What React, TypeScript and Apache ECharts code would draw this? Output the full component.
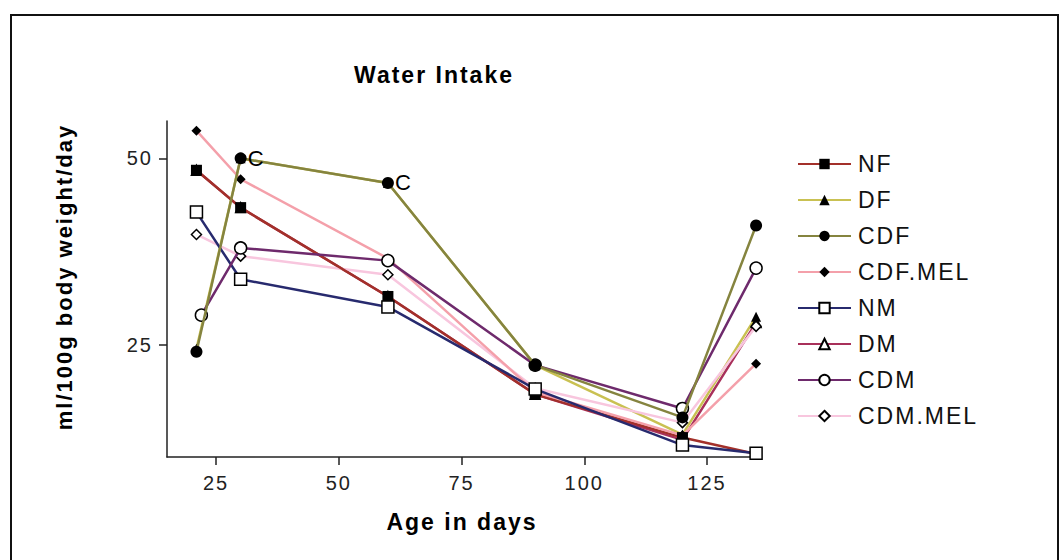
import { useEffect, useRef } from "react";
import * as echarts from "echarts";

const titleText = "Water Intake";
const xName = "Age in days";
const yName = "ml/100g body weight/day";

const days = [21, 30, 60, 90, 120, 135];
const cdmDays = [22, 30, 60, 90, 120, 135];
const seriesNames = ["NF", "DF", "CDF", "CDF.MEL", "NM", "DM", "CDM", "CDM.MEL"];
const nf = [48.4, 43.4, 31.5, 18.4, 12.6, 10.4];
const df = [24.5, 50.0, 46.7, 22.3, 13.0, 28.8];
const cdf = [24.1, 50.0, 46.7, 22.3, 15.3, 41.0];
const cdfMel = [53.7, 47.2, 36.6, 18.7, 12.9, 22.5];
const nm = [42.8, 33.8, 30.1, 19.1, 11.6, 10.5];
const dm = [48.4, 43.4, 31.5, 18.4, 12.3, 28.0];
const cdm = [29.0, 38.0, 36.3, 22.3, 16.5, 35.3];
const cdmMel = [39.8, 36.9, 34.4, 19.2, 14.6, 27.5];
const cdfMarks = ["", "C", "C", "", "", ""];
const xTicks = [25, 50, 75, 100, 125];
const yTicks = [25, 50];

const FONT = "'Liberation Sans', Arial, Helvetica, sans-serif";

function mk(
  name: string,
  xs: number[],
  ys: number[],
  color: string,
  symbol: string,
  size: number,
  filled: boolean,
  z: number,
  marks?: string[]
) {
  return {
    type: "line",
    name,
    z,
    clip: false,
    symbol,
    symbolSize: size,
    data: xs.map((x, i) => ({
      value: [x, ys[i]],
      label: marks && marks[i]
        ? {
            show: true,
            formatter: marks[i],
            position: "right",
            distance: 1,
            fontSize: 22,
            fontFamily: FONT,
            color: "#000",
          }
        : { show: false },
    })),
    lineStyle: { color, width: 2.5 },
    itemStyle: {
      color: filled ? "#000" : "#fff",
      borderColor: "#000",
      borderWidth: filled ? 0 : 1.5,
    },
    emphasis: { disabled: true },
  };
}

export default function App() {
  const ref = useRef<HTMLDivElement>(null);
  useEffect(() => {
    if (!ref.current) return;
    const chart = echarts.init(ref.current, undefined, { renderer: "svg" });
    const series = [
      mk(seriesNames[5], days, dm, "#a8305a", "triangle", 10, false, 1),
      mk(seriesNames[1], days, df, "#c9c152", "triangle", 10, true, 1),
      mk(seriesNames[0], days, nf, "#a3302a", "rect", 11, true, 3),
      mk(seriesNames[2], days, cdf, "#85843f", "circle", 12, true, 4, cdfMarks),
      mk(seriesNames[3], days, cdfMel, "#f4a0aa", "diamond", 10, true, 3),
      mk(seriesNames[4], days, nm, "#272a6e", "rect", 12, false, 3),
      mk(seriesNames[6], cdmDays, cdm, "#6e2a6c", "circle", 12, false, 3),
      mk(seriesNames[7], days, cdmMel, "#f8c6de", "diamond", 10, false, 2),
    ];
    chart.setOption({
      animation: false,
      backgroundColor: "#fff",
      textStyle: { fontFamily: FONT },
      grid: { left: 167, top: 121, width: 594, height: 336, containLabel: false },
      legend: {
        data: seriesNames,
        orient: "vertical",
        left: 792,
        top: 147,
        itemWidth: 53,
        itemHeight: 13,
        itemGap: 12,
        selectedMode: false,
        textStyle: {
          fontSize: 23,
          fontFamily: FONT,
          color: "#111",
          lineHeight: 24,
          padding: [0, 0, 0, 2],
        },
      },
      xAxis: {
        type: "value",
        min: 15,
        max: 136,
        axisLine: { show: true, onZero: false, lineStyle: { color: "#222", width: 1.5 } },
        axisTick: { show: true, customValues: xTicks, length: 8, lineStyle: { color: "#222", width: 1.5 } },
        axisLabel: { customValues: xTicks, fontSize: 20, color: "#222", margin: 16, fontFamily: FONT },
        splitLine: { show: false },
      },
      yAxis: {
        type: "value",
        min: 10,
        max: 55,
        axisLine: { show: true, onZero: false, lineStyle: { color: "#222", width: 1.5 } },
        axisTick: { show: true, customValues: yTicks, length: 8, lineStyle: { color: "#222", width: 1.5 } },
        axisLabel: { customValues: yTicks, fontSize: 20, color: "#222", margin: 14, fontFamily: FONT },
        splitLine: { show: false },
      },
      graphic: [
        {
          type: "rect",
          shape: { x: 11, y: 15, width: 1047, height: 600 },
          style: { fill: "none", stroke: "#111", lineWidth: 2 },
          silent: true,
        },
        {
          type: "text",
          x: 434,
          y: 75,
          style: {
            text: titleText,
            font: `bold 23px ${FONT}`,
            fill: "#000",
            textAlign: "center",
            textVerticalAlign: "middle",
          },
        },
        {
          type: "text",
          x: 64,
          y: 277,
          rotation: Math.PI / 2,
          style: {
            text: yName,
            font: `bold 22px ${FONT}`,
            fill: "#000",
            textAlign: "center",
            textVerticalAlign: "middle",
          },
        },
        {
          type: "text",
          x: 462,
          y: 522,
          style: {
            text: xName,
            font: `bold 23px ${FONT}`,
            fill: "#000",
            textAlign: "center",
            textVerticalAlign: "middle",
          },
        },
      ],
      series,
    });
    return () => chart.dispose();
  }, []);
  return (
    <div
      ref={ref}
      style={{
        position: "fixed",
        left: 0,
        top: 0,
        width: 1061,
        height: 560,
        letterSpacing: "2px",
        background: "#fff",
      }}
    />
  );
}
